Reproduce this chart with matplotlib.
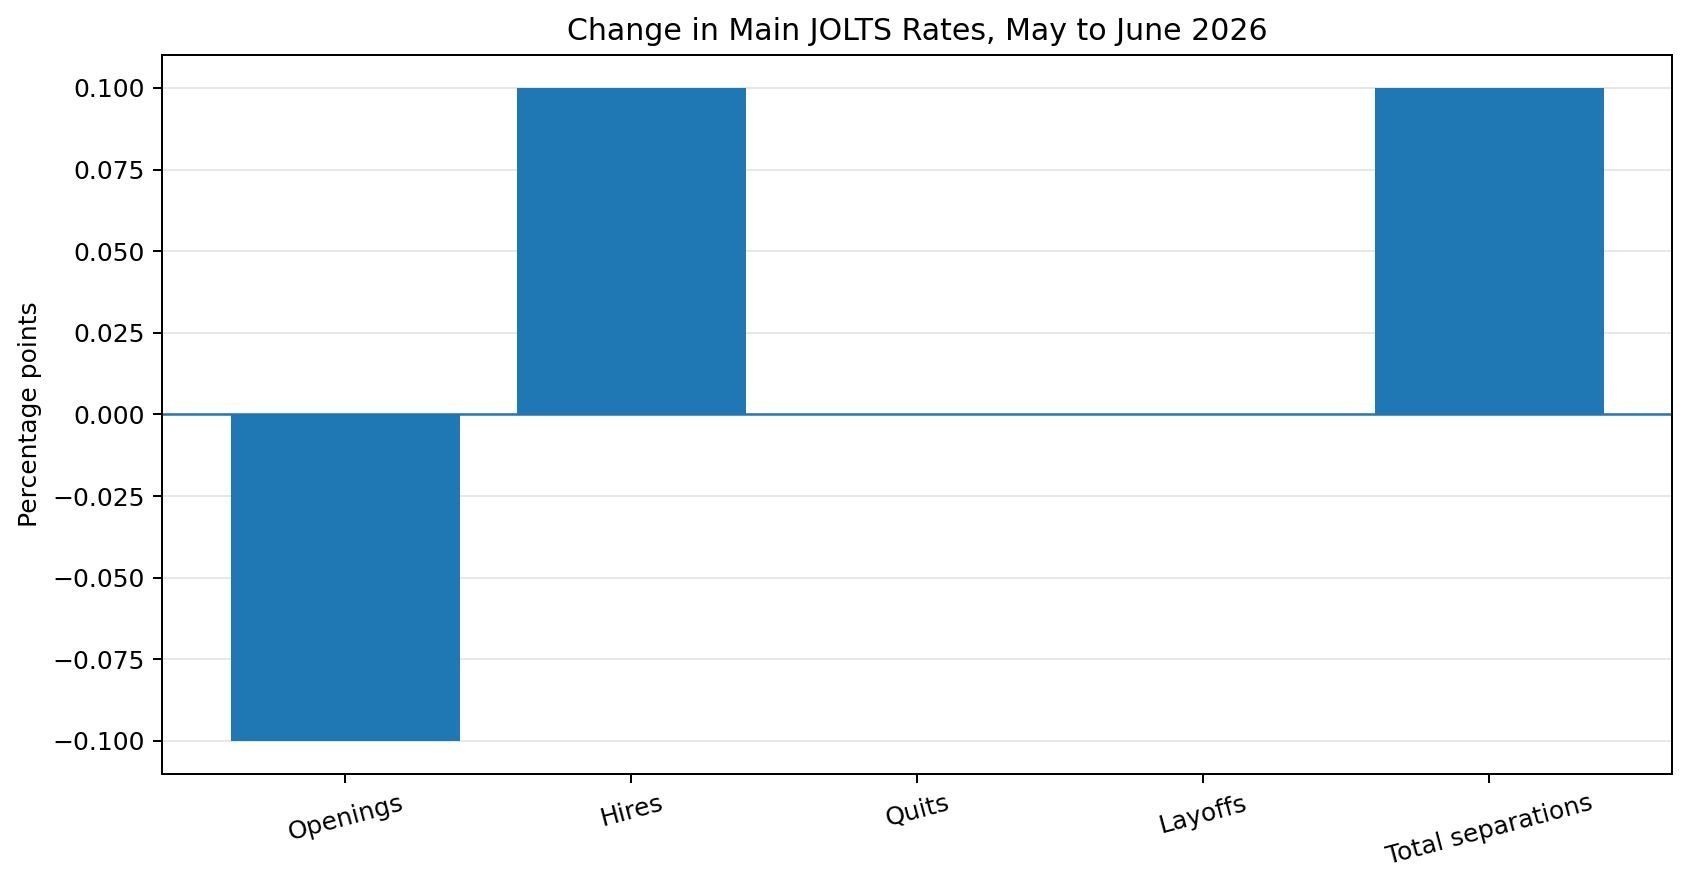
import matplotlib
matplotlib.use("Agg")
import matplotlib.pyplot as plt

# Data
categories = ['Openings', 'Hires', 'Quits', 'Layoffs', 'Total separations']
changes = [-0.1, 0.1, 0.0, 0.0, 0.1]

fig, ax = plt.subplots(figsize=(9.394, 4.878), dpi=180)
ax.bar(categories, changes, color='#1f77b4', width=0.8)
ax.axhline(0, color='#1f77b4', linewidth=1.0)
ax.set_title('Change in Main JOLTS Rates, May to June 2026')
ax.set_ylabel('Percentage points')
ax.grid(axis='y', alpha=0.3)
ax.set_axisbelow(True)
plt.setp(ax.get_xticklabels(), rotation=15)
fig.subplots_adjust(left=0.096, right=0.989, top=0.937, bottom=0.119)
fig.savefig('out.png')
